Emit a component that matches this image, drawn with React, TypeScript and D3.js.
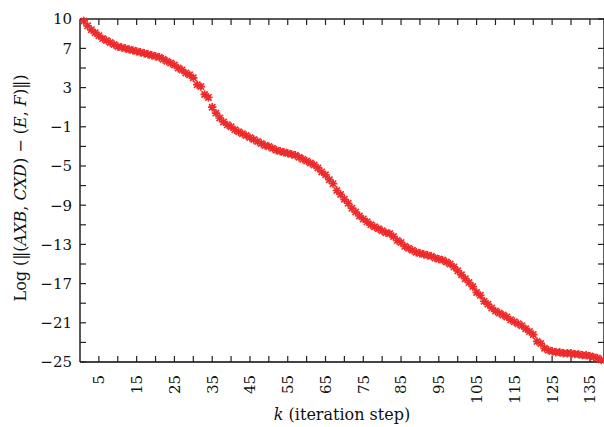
import React from "react";
import * as d3 from "d3";

const kValues: number[] = Array.from({ length: 138 }, (_, i) => i + 1);
const logResidual: number[] = [
  9.8, 9.3, 8.9, 8.6, 8.3, 8.0, 7.8, 7.6, 7.4, 7.2,
  7.1, 7.0, 6.9, 6.8, 6.7, 6.6, 6.5, 6.4, 6.3, 6.2,
  6.1, 5.9, 5.7, 5.5, 5.3, 5.0, 4.8, 4.5, 4.3, 4.0,
  3.3, 3.1, 2.3, 2.0, 1.0, 0.4, -0.1, -0.5, -0.8, -1.0,
  -1.3, -1.5, -1.7, -1.9, -2.1, -2.3, -2.5, -2.7, -2.9, -3.0,
  -3.2, -3.4, -3.5, -3.6, -3.7, -3.8, -3.9, -4.1, -4.3, -4.5,
  -4.7, -4.9, -5.2, -5.6, -5.9, -6.4, -6.8, -7.5, -7.9, -8.4,
  -8.8, -9.3, -9.7, -10.1, -10.4, -10.7, -11.0, -11.2, -11.4, -11.6,
  -11.8, -11.9, -12.2, -12.6, -12.8, -13.2, -13.4, -13.6, -13.8, -13.9,
  -14.0, -14.1, -14.2, -14.4, -14.5, -14.6, -14.8, -15.0, -15.3, -15.7,
  -16.1, -16.5, -16.9, -17.3, -17.9, -18.2, -18.8, -19.1, -19.5, -19.8,
  -20.0, -20.2, -20.4, -20.7, -20.9, -21.1, -21.3, -21.6, -21.9, -22.2,
  -22.9, -23.1, -23.6, -23.8, -23.9, -24.0, -24.0, -24.1, -24.1, -24.1,
  -24.2, -24.2, -24.3, -24.3, -24.4, -24.5, -24.6, -24.8,
];
const yLabelTicks: number[] = [-25, -21, -17, -13, -9, -5, -1, 3, 7, 10];
const yMinorTicks: number[] = [-23, -19, -15, -11, -7, -3, 1, 5];
const xTicks: number[] = d3.range(5, 140, 5);
const xLabelTicks: number[] = d3.range(5, 140, 10);

const W = 604;
const H = 427;
const L = 80, R = 605, T = 19, B = 362;
const FONT = "'DejaVu Serif', 'Liberation Serif', serif";
const RED = "#ee2a2a";

export default function App() {
  const x = d3.scaleLinear().domain([0, 139]).range([L, R]);
  const y = d3.scaleLinear().domain([-25, 10]).range([B, T]);
  const fmt = (v: number) => (v < 0 ? "\u2212" + Math.abs(v) : String(v));
  const s = 4.2;
  const d = s * 0.75;
  const star = `M${-s},0L${s},0M0,${-s}L0,${s}M${-d},${-d}L${d},${d}M${-d},${d}L${d},${-d}`;
  const tl = 6;
  return (
    <svg width={W} height={H} style={{ position: "absolute", left: 0, top: 0, background: "#fff" }} fontFamily={FONT}>
      <g stroke="#222" strokeWidth={1.5} fill="none">
        <line x1={L} y1={T} x2={R} y2={T} />
        <line x1={L} y1={T} x2={L} y2={B} />
        <line x1={R - 1} y1={T} x2={R - 1} y2={B} />
        <line x1={L} y1={B} x2={R} y2={B} stroke="#444" strokeWidth={2} />
      </g>
      <g stroke="#222" strokeWidth={1.2}>
        {[...yLabelTicks, ...yMinorTicks].map((v) => (
          <g key={"yt" + v}>
            <line x1={L} x2={L + tl} y1={y(v)} y2={y(v)} />
            <line x1={R - 1} x2={R - 1 - tl} y1={y(v)} y2={y(v)} />
          </g>
        ))}
        {xTicks.map((v) => (
          <g key={"xt" + v}>
            <line x1={x(v)} x2={x(v)} y1={B} y2={B - tl} />
            <line x1={x(v)} x2={x(v)} y1={T} y2={T + tl} />
          </g>
        ))}
      </g>
      <g fontSize={15} fill="#111" textAnchor="end">
        {yLabelTicks.map((v) => (
          <text key={"yl" + v} x={L - 8} y={y(v)} dy="0.36em">{fmt(v)}</text>
        ))}
      </g>
      <g fontSize={15} fill="#111" textAnchor="end">
        {xLabelTicks.map((v) => (
          <text key={"xl" + v} transform={`translate(${x(v)},${B + 13}) rotate(-90)`} dy="0.36em">{v}</text>
        ))}
      </g>
      <g stroke={RED} strokeWidth={1.7} fill="none">
        {kValues.map((k, i) => (
          <path key={"m" + k} d={star} transform={`translate(${x(k)},${y(logResidual[i])})`} />
        ))}
      </g>
      <text x={342} y={420} fontSize={16} textAnchor="middle" fill="#111">
        <tspan fontStyle="italic">k</tspan> (iteration step)
      </text>
      <text transform={`translate(26,188) rotate(-90)`} fontSize={16} textAnchor="middle" fill="#111">
        Log (‖(<tspan fontStyle="italic">AXB</tspan>, <tspan fontStyle="italic">CXD</tspan>) − (<tspan fontStyle="italic">E</tspan>, <tspan fontStyle="italic">F</tspan>)‖)
      </text>
    </svg>
  );
}
